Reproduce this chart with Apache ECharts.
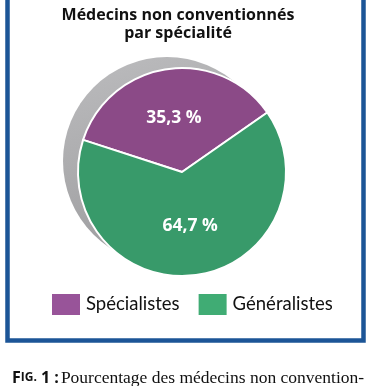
<!DOCTYPE html>
<html><head><meta charset="utf-8">
<script src="https://cdn.jsdelivr.net/npm/echarts@6/dist/echarts.min.js"></script>
<style>html,body{margin:0;padding:0;background:#fff}#c{width:372px;height:386px}</style>
</head><body><div id="c"></div>
<script>
var categories = ['Spécialistes', 'Généralistes'];
var values = [35.3, 64.7];
var labelTexts = ['35,3 %', '64,7 %'];
var sliceColors = ['#8b4a87', '#389a6a'];
var legendColors = ['#985499', '#40ac74'];

var chart = echarts.init(document.getElementById('c'));
chart.setOption({
  animation: false,
  title: [{
    text: 'Médecins non conventionnés\npar spécialité',
    left: 173, top: 1, textAlign: 'center',
    textStyle: {fontFamily: 'Open Sans', fontWeight: 'bold', fontSize: 16, lineHeight: 18, color: '#111'}
  }, {
    text: '{a|F}{b|IG.}{a| 1 :}{c|Pourcentage des médecins non convention-}',
    left: 7, top: 364,
    textStyle: {
      rich: {
        a: {fontFamily: 'Open Sans', fontWeight: 'bold', fontSize: 16, color: '#111'},
        b: {fontFamily: 'Open Sans', fontWeight: 'bold', fontSize: 12, color: '#111'},
        c: {fontFamily: 'Liberation Serif', fontWeight: 'normal', fontSize: 17.5, color: '#111', padding: [0, 0, 0, 2]}
      }
    }
  }],
  graphic: [{
    type: 'rect', z: -10,
    shape: {x: 7.5, y: -10, width: 356, height: 350.5},
    style: {fill: 'none', stroke: '#1c5597', lineWidth: 4.5}
  }],
  legend: {
    left: 45, top: 287, itemWidth: 30, itemHeight: 23, itemGap: 17, icon: 'rect',
    data: categories.map(function (c, i) { return {name: c, itemStyle: {color: legendColors[i]}}; }),
    textStyle: {fontFamily: 'Lato', fontSize: 18.5, color: '#111'}
  },
  series: [{
    type: 'pie', silent: true, z: 1,
    center: [167, 161], radius: 104,
    label: {show: false}, labelLine: {show: false},
    itemStyle: {color: {type: 'linear', x: 0, y: 0, x2: 0.3, y2: 1,
      colorStops: [{offset: 0, color: '#bcbcbe'}, {offset: 1, color: '#9d9d9f'}]}},
    data: [{name: 'shadow', value: 1}]
  }, {
    type: 'pie', z: 2,
    center: [182, 172], radius: 104, startAngle: 162,
    itemStyle: {borderColor: '#fff', borderWidth: 2},
    label: {
      show: true, position: 'inside',
      formatter: function (p) { return labelTexts[p.dataIndex]; },
      fontFamily: 'Open Sans', fontWeight: 'bold', fontSize: 17.5, color: '#fff'
    },
    labelLine: {show: false},
    data: categories.map(function (c, i) { return {name: c, value: values[i], itemStyle: {color: sliceColors[i]}}; })
  }]
});
</script></body></html>
